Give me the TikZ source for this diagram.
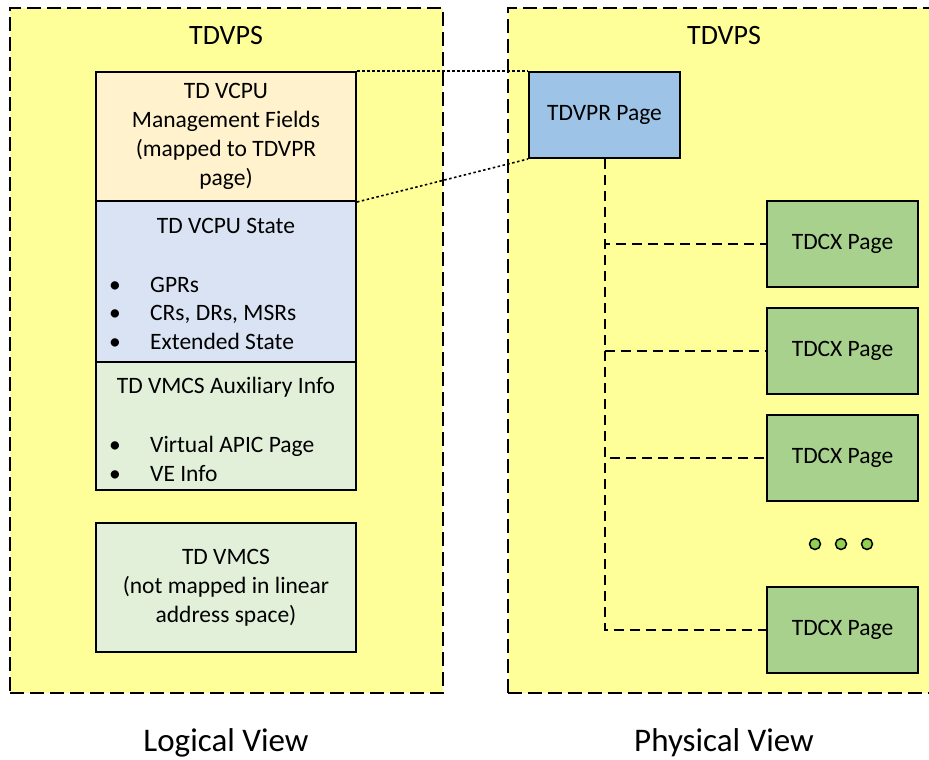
\documentclass[tikz,border=0pt]{standalone}
\usepackage{fontspec}
\setmainfont{Carlito}
\definecolor{yfill}{HTML}{FFFF99}
\definecolor{ofill}{HTML}{FFF2CC}
\definecolor{bfill}{HTML}{DAE3F3}
\definecolor{gfill}{HTML}{E2F0D9}
\definecolor{vprfill}{HTML}{9DC3E6}
\definecolor{cxfill}{HTML}{A9D18E}
\definecolor{dotfill}{HTML}{92D050}
\tikzset{
  ybox/.style={draw=black, fill=yfill, line width=2pt, dash pattern=on 14pt off 6pt, inner sep=0pt},
  sect/.style={draw=black, line width=2pt, minimum width=260pt, inner sep=0pt, align=center, font=\fontsize{23.5}{29}\selectfont},
  pagebox/.style={draw=black, line width=2pt, minimum width=151pt, minimum height=86pt, inner sep=0pt, font=\fontsize{23.5}{29}\selectfont},
  txt/.style={inner sep=0pt, align=center, font=\fontsize{23.5}{29}\selectfont},
  blist/.style={inner sep=0pt, align=left, anchor=west, font=\fontsize{23.5}{28.5}\selectfont},
  title/.style={inner sep=0pt, anchor=base, font=\fontsize{28}{34}\selectfont},
  bigtitle/.style={inner sep=0pt, anchor=base, font=\fontsize{33}{40}\selectfont},
  conn/.style={draw=black, line width=2pt, dash pattern=on 10pt off 6pt},
  dotline/.style={draw=black, line width=1.6pt, dash pattern=on 2.5pt off 2.5pt},
  ell/.style={circle, draw=black, fill=dotfill, line width=1.5pt, minimum size=11pt, inner sep=0pt}
}
\newcommand{\bl}[1]{\makebox[41pt][l]{\textbullet}#1}
\begin{document}
\begin{tikzpicture}[x=1pt,y=-1pt]
\useasboundingbox (0,0) rectangle (929,760);
\clip (0,0) rectangle (929,760);
% outer areas
\node[ybox, minimum width=433pt, minimum height=685pt] (lv) at (226.5,350.5) {};
\node[ybox, minimum width=432pt, minimum height=685pt] (pv) at (724,350.5) {};
\node[title] (lvt) at (226,45) {TDVPS};
\node[title] (pvt) at (724,45) {TDVPS};
\node[bigtitle] (lvl) at (226,751) {Logical View};
\node[bigtitle] (pvl) at (724,751) {Physical View};
% logical view stack
\node[sect, fill=ofill, minimum height=129pt] (mgmt) at (226,136.5) {TD VCPU\\Management Fields\\(mapped to TDVPR\\page)};
\node[sect, fill=bfill, minimum height=161pt] (state) at (226,281.5) {};
\node[txt] (statet) at (226,226) {TD VCPU State};
\node[blist] (statel) at (109,313) {\bl{GPRs}\\\bl{CRs, DRs, MSRs}\\\bl{Extended State}};
\node[sect, fill=gfill, minimum height=128pt] (aux) at (226,426) {};
\node[txt] (auxt) at (226,387) {TD VMCS Auxiliary Info};
\node[blist] (auxl) at (109,459) {\bl{Virtual APIC Page}\\\bl{VE Info}};
\node[sect, fill=gfill, minimum height=129pt] (vmcs) at (226,587.5) {TD VMCS\\(not mapped in linear\\address space)};
% physical view
\node[pagebox, fill=vprfill] (vpr) at (604.5,115) {TDVPR Page};
\node[pagebox, fill=cxfill] (cx1) at (842.5,244) {TDCX Page};
\node[pagebox, fill=cxfill] (cx2) at (842.5,351) {TDCX Page};
\node[pagebox, fill=cxfill] (cx3) at (842.5,458) {TDCX Page};
\node[pagebox, fill=cxfill] (cx4) at (842.5,630) {TDCX Page};
\node[ell] (d1) at (815,544) {};
\node[ell] (d2) at (841,544) {};
\node[ell] (d3) at (867,544) {};
% connectors
\draw[dotline] (mgmt.north east) -- (vpr.north west);
\draw[dotline] (mgmt.south east) -- (vpr.south west);
\draw[conn] (vpr.south) |- (cx1.west);
\draw[conn] (vpr.south) |- (cx2.west);
\draw[conn] (vpr.south) |- (cx3.west);
\draw[conn] (vpr.south) |- (cx4.west);
\end{tikzpicture}
\end{document}
